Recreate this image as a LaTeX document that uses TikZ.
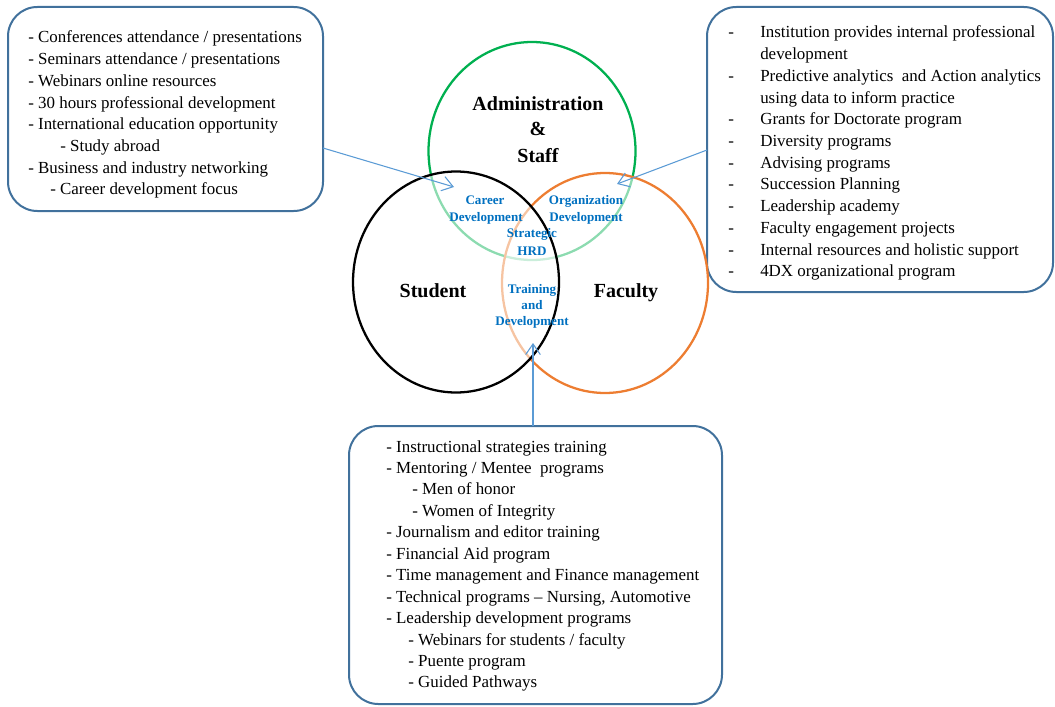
\documentclass[tikz,border=0pt]{standalone}
\usepackage{fontspec}
\setmainfont{Liberation Serif}
\usetikzlibrary{shapes.geometric,arrows.meta}
\definecolor{cgreen}{RGB}{0,176,80}
\definecolor{corange}{RGB}{237,125,49}
\definecolor{cblue}{RGB}{0,112,192}
\definecolor{carrow}{RGB}{91,155,213}
\definecolor{cbox}{RGB}{65,113,156}
\begin{document}
\begin{tikzpicture}[x=0.75pt,y=-0.75pt,
  box/.style={draw=cbox, line width=1.5pt, rounded corners=22pt, rectangle, inner sep=0pt},
  venn/.style={ellipse, line width=1.7pt, inner sep=0pt},
  item/.style={anchor=base west, inner sep=0pt, font=\fontsize{12.7}{15}\selectfont},
  big/.style={anchor=base, inner sep=0pt, font=\fontsize{15}{18}\selectfont\bfseries},
  lab/.style={anchor=base, inner sep=0pt, text=cblue, font=\fontsize{9.8}{12}\selectfont\bfseries},
  conn/.style={draw=carrow, line width=0.8pt, -{Straight Barb[length=8pt,width=11pt]}}]
\useasboundingbox (0,0) rectangle (1055,706);

% boxes
\node[box, minimum width=236.25pt, minimum height=153pt] (lbox) at (165.5,109) {};
\node[box, minimum width=259.5pt, minimum height=213.75pt] (rbox) at (880,149.5) {};
\node[box, minimum width=279.75pt, minimum height=208.5pt] (bbox) at (535.5,565) {};

% venn circles
\node[venn, draw=cgreen, minimum width=155.25pt, minimum height=163.5pt] (admin) at (532,151) {};
\node[venn, draw=corange, fill=white, fill opacity=0.55, minimum width=154.5pt, minimum height=165pt] (fac) at (605,283) {};
\node[venn, draw=black, fill=white, fill opacity=0.55, minimum width=154.5pt, minimum height=165.75pt] (stu) at (456,282) {};

% big labels
\node[big] (t1) at (538,111) {Administration};
\node[big] (t2) at (538,136) {\&};
\node[big] (t3) at (538,162) {Staff};
\node[big] (t4) at (433,297) {Student};
\node[big] (t5) at (626,297) {Faculty};

% blue labels
\node[lab] (c1) at (485,204) {Career};
\node[lab] (c2) at (486,221) {Development};
\node[lab] (o1) at (586,204) {Organization};
\node[lab] (o2) at (586,221) {Development};
\node[lab] (s1) at (532,237) {Strategic};
\node[lab] (s2) at (532,255) {HRD};
\node[lab] (d1) at (532,293) {Training};
\node[lab] (d2) at (532,309) {and};
\node[lab] (d3) at (532,325) {Development};

% left box text
\foreach \x/\y/\t [count=\i] in {
  28/43/{- Conferences attendance / presentations},
  28/64.7/{- Seminars attendance / presentations},
  28/86.4/{- Webinars online resources},
  28/108.1/{- 30 hours professional development},
  28/129.8/{- International education opportunity},
  60/151.5/{- Study abroad},
  28/173.2/{- Business and industry networking},
  50/194.9/{- Career development focus}}
  \node[item] (L\i) at (\x,\y) {\t};

% right box text
\foreach \y/\t [count=\i] in {
  38/{Institution provides internal professional},
  59.7/{development},
  81.4/{Predictive analytics \ and Action analytics},
  103.1/{using data to inform practice},
  124.8/{Grants for Doctorate program},
  146.5/{Diversity programs},
  168.2/{Advising programs},
  189.9/{Succession Planning},
  211.6/{Leadership academy},
  233.3/{Faculty engagement projects},
  255/{Internal resources and holistic support},
  276.7/{4DX organizational program}}
  \node[item] (R\i) at (760,\y) {\t};
\foreach \y [count=\i] in {38,81.4,124.8,146.5,168.2,189.9,211.6,233.3,255,276.7}
  \node[item] (RD\i) at (728,\y) {-};

% bottom box text
\foreach \x/\y/\t [count=\i] in {
  386/452/{- Instructional strategies training},
  386/473.45/{- Mentoring / Mentee \ programs},
  412/494.9/{- Men of honor},
  412/516.35/{- Women of Integrity},
  386/537.8/{- Journalism and editor training},
  386/559.25/{- Financial Aid program},
  386/580.7/{- Time management and Finance management},
  386/602.15/{- Technical programs – Nursing, Automotive},
  386/623.6/{- Leadership development programs},
  408/645.05/{- Webinars for students / faculty},
  408/666.5/{- Puente program},
  408/687.95/{- Guided Pathways}}
  \node[item] (B\i) at (\x,\y) {\t};

% connectors
\coordinate (la) at (323,148);
\coordinate (lt) at (454,187);
\coordinate (ra) at (707,150);
\coordinate (rt) at (617,184);
\coordinate (ba) at (533,426);
\coordinate (bt) at (533,343);
\draw[conn] (la) -- (lt);
\draw[conn] (ra) -- (rt);
\draw[conn] (ba) -- (bt);
\end{tikzpicture}
\end{document}
